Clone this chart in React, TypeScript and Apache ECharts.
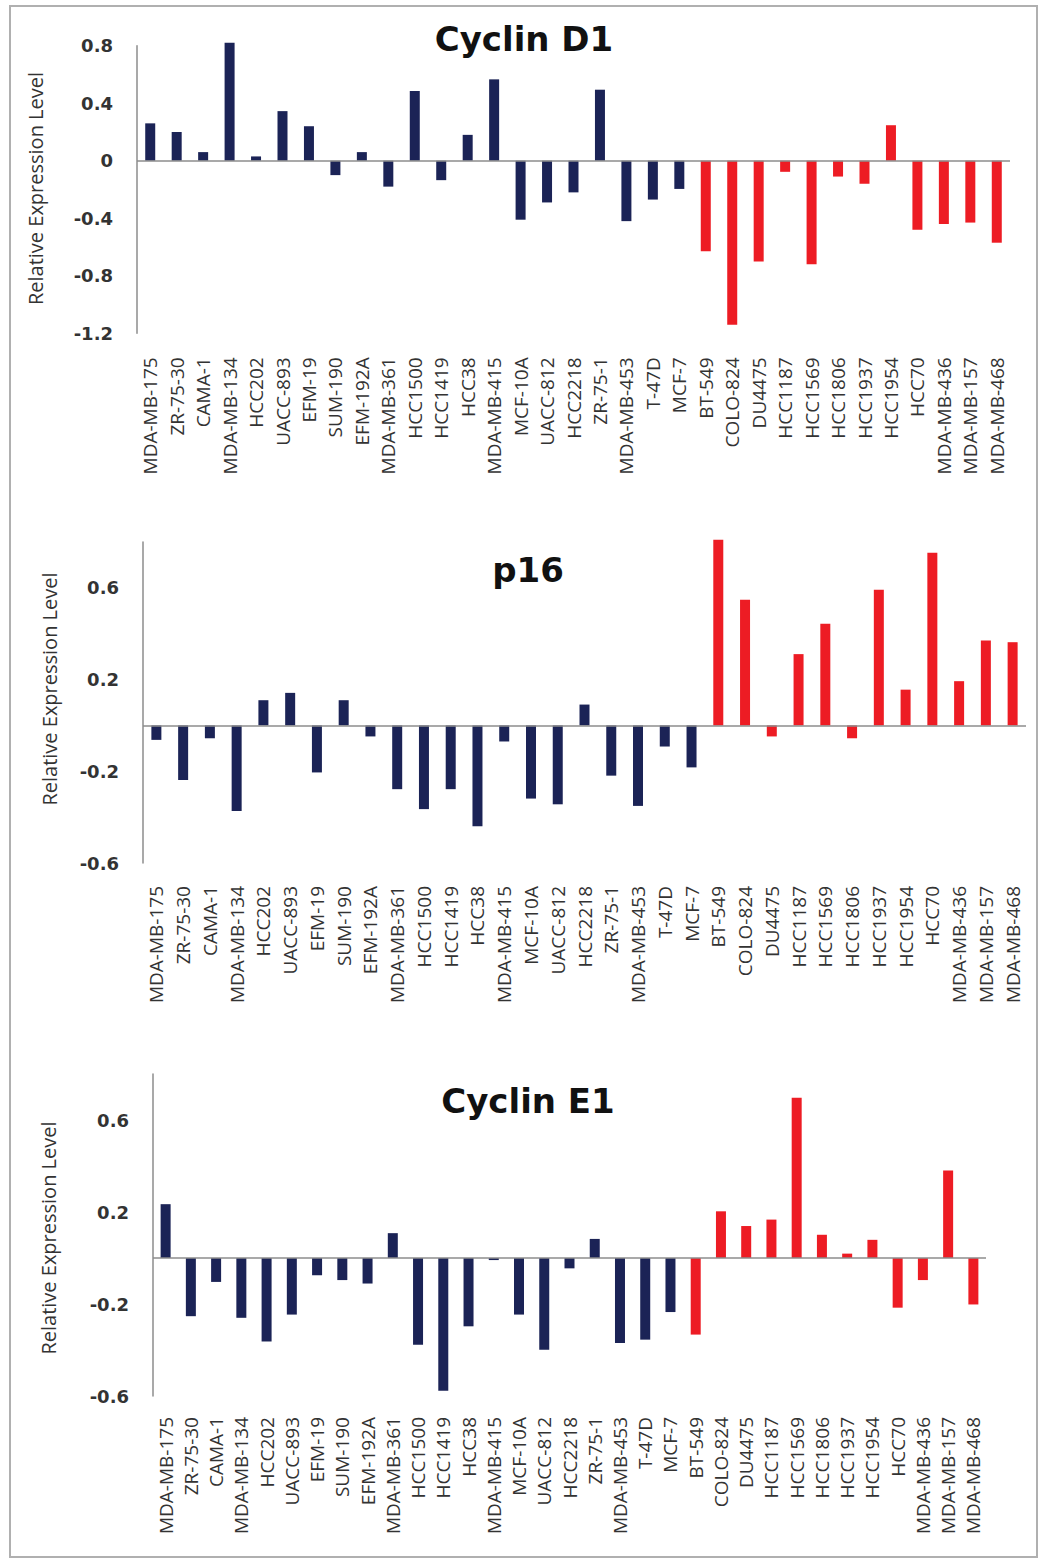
import React, { useEffect, useRef } from "react";
import * as echarts from "echarts";

const categories = [
  "MDA-MB-175", "ZR-75-30", "CAMA-1", "MDA-MB-134", "HCC202", "UACC-893", "EFM-19",
  "SUM-190", "EFM-192A", "MDA-MB-361", "HCC1500", "HCC1419", "HCC38", "MDA-MB-415",
  "MCF-10A", "UACC-812", "HCC2218", "ZR-75-1", "MDA-MB-453", "T-47D", "MCF-7",
  "BT-549", "COLO-824", "DU4475", "HCC1187", "HCC1569", "HCC1806", "HCC1937",
  "HCC1954", "HCC70", "MDA-MB-436", "MDA-MB-157", "MDA-MB-468",
];

const redLines = [
  "BT-549", "COLO-824", "DU4475", "HCC1187", "HCC1569", "HCC1806", "HCC1937",
  "HCC1954", "HCC70", "MDA-MB-436", "MDA-MB-157", "MDA-MB-468",
];

const cyclinD1 = [
  0.26, 0.2, 0.06, 0.82, 0.03, 0.345, 0.24, -0.1, 0.06, -0.18, 0.485, -0.135, 0.18,
  0.566, -0.41, -0.29, -0.22, 0.494, -0.42, -0.27, -0.196, -0.63, -1.14, -0.7, -0.077,
  -0.72, -0.11, -0.16, 0.247, -0.48, -0.44, -0.43, -0.57,
];

const p16 = [
  -0.063, -0.238, -0.056, -0.373, 0.11, 0.142, -0.205, 0.11, -0.048, -0.278, -0.365,
  -0.278, -0.44, -0.07, -0.319, -0.344, 0.091, -0.219, -0.351, -0.092, -0.183, 0.81,
  0.548, -0.048, 0.311, 0.443, -0.056, 0.592, 0.156, 0.753, 0.193, 0.37, 0.363,
];

const cyclinE1 = [
  0.234, -0.253, -0.104, -0.26, -0.363, -0.246, -0.075, -0.096, -0.111, 0.108, -0.377,
  -0.577, -0.297, -0.009, -0.246, -0.399, -0.045, 0.083, -0.37, -0.355, -0.235, -0.333,
  0.203, 0.139, 0.167, 0.697, 0.101, 0.019, 0.079, -0.216, -0.096, 0.38, -0.202,
];

const titles = ["Cyclin D1", "p16", "Cyclin E1"];
const yMins = [-1.2, -0.6, -0.6];
const yMaxs = [0.8, 0.8, 0.8];
const yInterval = 0.4;
const yAxisName = "Relative Expression Level";

const NAVY = "#1b2356";
const RED = "#ed1c24";
const AXIS = "#8c8c8c";

const layout = [
  { left: 137, top: 45.7, width: 873, height: 287.6, labelMargin: 24, titleX: 524, titleY: 39, nameX: 35, nameY: 188.5 },
  { left: 143, top: 542, width: 883, height: 321, labelMargin: 23, titleX: 528, titleY: 570, nameX: 49, nameY: 689 },
  { left: 153, top: 1074, width: 833, height: 322, labelMargin: 21, titleX: 528, titleY: 1101, nameX: 48, nameY: 1238 },
];

const seriesValues = [cyclinD1, p16, cyclinE1];

export default function App() {
  const ref = useRef<HTMLDivElement>(null);

  useEffect(() => {
    document.body.style.margin = "0";
    if (!ref.current) return;
    const chart = echarts.init(ref.current, undefined, { renderer: "svg" });

    const option: any = {
      animation: false,
      backgroundColor: "#ffffff",
      grid: layout.map((l) => ({ left: l.left, top: l.top, width: l.width, height: l.height })),
      xAxis: layout.map((l, i) => ({
        type: "category",
        gridIndex: i,
        data: categories,
        axisLine: { show: false, onZero: false },
        axisTick: { show: false },
        splitLine: { show: false },
        axisLabel: {
          interval: 0,
          rotate: 90,
          margin: l.labelMargin,
          fontSize: 19,
          fontFamily: "Open Sans",
          color: "#333333",
        },
      })),
      yAxis: layout.map((l, i) => ({
        type: "value",
        gridIndex: i,
        min: yMins[i],
        max: yMaxs[i],
        interval: yInterval,
        splitLine: { show: false },
        axisTick: { show: false },
        axisLine: { show: true, lineStyle: { color: AXIS, width: 1.5 } },
        axisLabel: {
          showMaxLabel: i === 0,
          margin: 24,
          fontSize: 18,
          fontWeight: "bold",
          fontFamily: "DejaVu Sans",
          color: "#333333",
        },
      })),
      series: seriesValues.map((vals, i) => ({
        type: "bar",
        xAxisIndex: i,
        yAxisIndex: i,
        barWidth: 10,
        clip: false,
        data: vals.map((v, j) => ({
          value: v,
          itemStyle: { color: redLines.includes(categories[j]) ? RED : NAVY },
        })),
        markLine: {
          silent: true,
          symbol: ["none", "none"],
          label: { show: false },
          lineStyle: { color: AXIS, width: 1.5, type: "solid" },
          data: [{ yAxis: 0 }],
        },
      })),
      graphic: [
        {
          type: "rect",
          shape: { x: 10, y: 6, width: 1027, height: 1551 },
          style: { fill: "none", stroke: "#b0b0b0", lineWidth: 2 },
          silent: true,
        },
        ...layout.map((l, i) => ({
          type: "text",
          x: l.titleX,
          y: l.titleY,
          style: {
            text: titles[i],
            font: 'bold 34px "DejaVu Sans"',
            fill: "#111111",
            align: "center",
            verticalAlign: "middle",
            textAlign: "center",
            textVerticalAlign: "middle",
          },
        })),
        ...layout.map((l) => ({
          type: "text",
          x: l.nameX,
          y: l.nameY,
          rotation: Math.PI / 2,
          style: {
            text: yAxisName,
            font: '20px "Open Sans"',
            fill: "#333333",
            align: "center",
            verticalAlign: "middle",
            textAlign: "center",
            textVerticalAlign: "middle",
          },
        })),
      ],
    };

    chart.setOption(option);
    return () => {
      chart.dispose();
    };
  }, []);

  return <div ref={ref} style={{ width: 1039, height: 1559 }} />;
}
